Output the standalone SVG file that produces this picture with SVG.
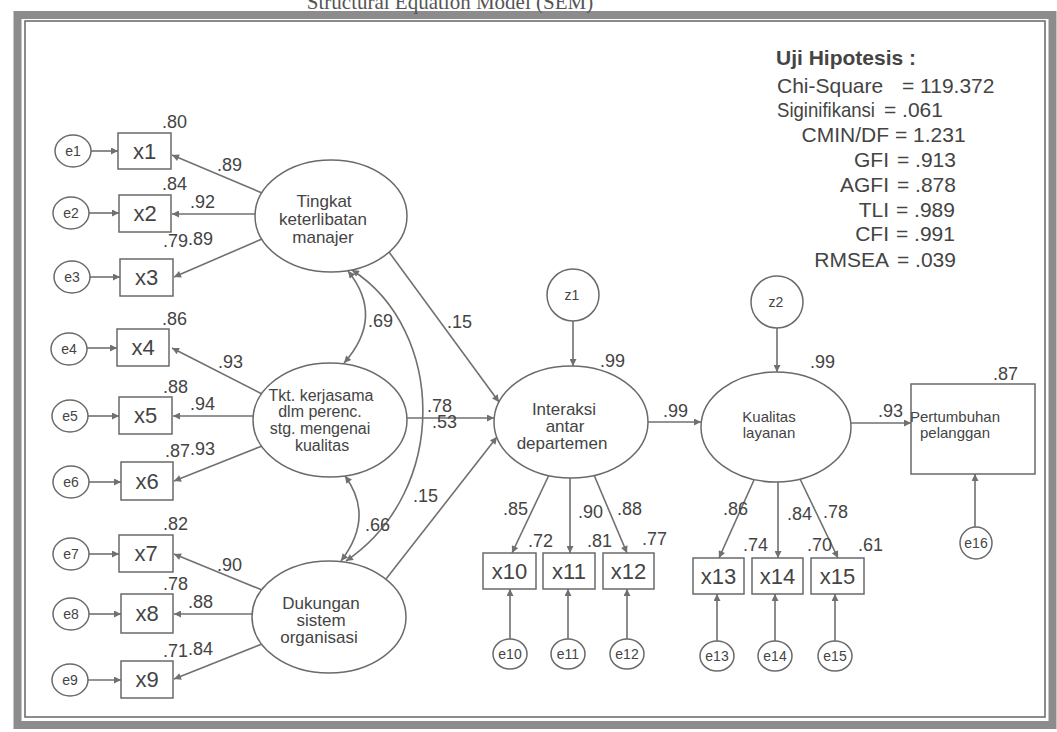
<svg xmlns="http://www.w3.org/2000/svg" width="1057" height="732" viewBox="0 0 1057 732">
<style>
.ln{stroke:#707070;stroke-width:1.6;fill:none}
.arr{marker-end:url(#ah)}
.dbl{marker-start:url(#ah);marker-end:url(#ah)}
.shp{stroke:#6a6a6a;stroke-width:1.5;fill:#fff}
.t{font-family:"Liberation Sans",Arial,sans-serif;fill:#444}
.num{font-size:18px}
.bx{font-size:22px;text-anchor:middle}
.er{font-size:14px;text-anchor:middle}
.lat{font-size:17px;text-anchor:middle}
.lat3{font-size:16px;text-anchor:middle}
.lat2{font-size:15px;text-anchor:middle}
.st{font-size:21px}
.e{text-anchor:end}
</style>
<defs>
<marker id="ah" viewBox="0 0 10 10" refX="10" refY="5" markerWidth="10" markerHeight="7" markerUnits="userSpaceOnUse" orient="auto-start-reverse">
<path d="M0,0 L10,5 L0,10 z" fill="#707070"/>
</marker>
</defs>
<rect x="0" y="0" width="1057" height="732" fill="#fff"/>
<g id="frame">
<rect x="17.5" y="15" width="1035" height="710" fill="none" stroke="#8c8c8c" stroke-width="8"/>
<rect x="25" y="21" width="1020" height="696" fill="none" stroke="#666" stroke-width="1.5"/>
</g>
<text x="450" y="9" font-family="Liberation Serif,serif" font-size="21" fill="#555" text-anchor="middle">Structural Equation Model (SEM)</text>

<g id="connectors">
<line class="ln arr" x1="91" y1="151" x2="118" y2="151"/>
<line class="ln arr" x1="89" y1="213" x2="119" y2="213"/>
<line class="ln arr" x1="90" y1="277" x2="120" y2="277"/>
<line class="ln arr" x1="87" y1="348" x2="117" y2="348"/>
<line class="ln arr" x1="88" y1="416" x2="119" y2="416"/>
<line class="ln arr" x1="89" y1="482" x2="121" y2="482"/>
<line class="ln arr" x1="89" y1="554" x2="119" y2="554"/>
<line class="ln arr" x1="89" y1="614" x2="121" y2="614"/>
<line class="ln arr" x1="88" y1="680" x2="121" y2="680"/>
<line class="ln arr" x1="262" y1="193" x2="172" y2="155"/>
<line class="ln arr" x1="255" y1="214" x2="172" y2="214"/>
<line class="ln arr" x1="262" y1="239" x2="174" y2="277"/>
<line class="ln arr" x1="262" y1="394" x2="172" y2="348"/>
<line class="ln arr" x1="253" y1="416" x2="173" y2="416"/>
<line class="ln arr" x1="262" y1="446" x2="174" y2="481"/>
<line class="ln arr" x1="262" y1="590" x2="174" y2="554"/>
<line class="ln arr" x1="252" y1="614" x2="174" y2="614"/>
<line class="ln arr" x1="262" y1="644" x2="174" y2="679"/>
<path class="ln dbl" d="M348,271 Q385,317 344,363"/>
<path class="ln dbl" d="M352,270 C445,330 450,490 346,561"/>
<path class="ln dbl" d="M345,476 Q375,517 341,561"/>
<line class="ln arr" x1="389" y1="252" x2="499" y2="402"/>
<line class="ln arr" x1="407" y1="418" x2="494" y2="418"/>
<line class="ln arr" x1="386" y1="579" x2="497" y2="437"/>
<line class="ln arr" x1="648" y1="422" x2="701" y2="422"/>
<line class="ln arr" x1="851" y1="423" x2="911" y2="423"/>
<line class="ln arr" x1="573" y1="321" x2="573" y2="366"/>
<line class="ln arr" x1="777" y1="328" x2="777" y2="372"/>
<line class="ln arr" x1="549" y1="475" x2="512" y2="553"/>
<line class="ln arr" x1="570" y1="478" x2="570" y2="553"/>
<line class="ln arr" x1="594" y1="475" x2="627" y2="553"/>
<line class="ln arr" x1="754" y1="480" x2="719" y2="558"/>
<line class="ln arr" x1="778" y1="482" x2="778" y2="558"/>
<line class="ln arr" x1="800" y1="479" x2="838" y2="558"/>
<line class="ln arr" x1="510" y1="639" x2="510" y2="589"/>
<line class="ln arr" x1="568" y1="639" x2="568" y2="589"/>
<line class="ln arr" x1="627" y1="639" x2="627" y2="589"/>
<line class="ln arr" x1="717" y1="641" x2="717" y2="594"/>
<line class="ln arr" x1="775" y1="641" x2="775" y2="594"/>
<line class="ln arr" x1="835" y1="641" x2="835" y2="594"/>
<line class="ln arr" x1="975" y1="527" x2="975" y2="474"/>
</g>

<g id="e1"><ellipse class="shp" cx="73" cy="151" rx="18" ry="16"/><text class="t er" x="73" y="156">e1</text></g>
<g id="e2"><ellipse class="shp" cx="71" cy="213" rx="18" ry="16"/><text class="t er" x="71" y="218">e2</text></g>
<g id="e3"><ellipse class="shp" cx="72" cy="277" rx="18" ry="16"/><text class="t er" x="72" y="282">e3</text></g>
<g id="e4"><ellipse class="shp" cx="69" cy="349" rx="18" ry="16"/><text class="t er" x="69" y="354">e4</text></g>
<g id="e5"><ellipse class="shp" cx="70" cy="416" rx="18" ry="16"/><text class="t er" x="70" y="421">e5</text></g>
<g id="e6"><ellipse class="shp" cx="71" cy="482" rx="18" ry="16"/><text class="t er" x="71" y="487">e6</text></g>
<g id="e7"><ellipse class="shp" cx="71" cy="554" rx="18" ry="16"/><text class="t er" x="71" y="559">e7</text></g>
<g id="e8"><ellipse class="shp" cx="71" cy="614" rx="18" ry="16"/><text class="t er" x="71" y="619">e8</text></g>
<g id="e9"><ellipse class="shp" cx="70" cy="680" rx="18" ry="16"/><text class="t er" x="70" y="685">e9</text></g>

<g id="x1"><rect class="shp" x="118" y="133" width="53" height="36"/><text class="t bx" x="144.5" y="159">x1</text></g>
<g id="x2"><rect class="shp" x="119" y="195" width="52" height="37"/><text class="t bx" x="145" y="221">x2</text></g>
<g id="x3"><rect class="shp" x="120" y="259" width="53" height="37"/><text class="t bx" x="146.5" y="285">x3</text></g>
<g id="x4"><rect class="shp" x="117" y="329" width="52" height="37"/><text class="t bx" x="143" y="355">x4</text></g>
<g id="x5"><rect class="shp" x="119" y="397" width="53" height="37"/><text class="t bx" x="145.5" y="423">x5</text></g>
<g id="x6"><rect class="shp" x="121" y="462" width="52" height="38"/><text class="t bx" x="147" y="489">x6</text></g>
<g id="x7"><rect class="shp" x="119" y="535" width="54" height="37"/><text class="t bx" x="146" y="561">x7</text></g>
<g id="x8"><rect class="shp" x="121" y="594" width="52" height="39"/><text class="t bx" x="147" y="621">x8</text></g>
<g id="x9"><rect class="shp" x="121" y="661" width="52" height="37"/><text class="t bx" x="147" y="687">x9</text></g>

<g id="tingkat"><ellipse class="shp" cx="331" cy="216" rx="76" ry="56"/>
<text class="t lat" x="324" y="207">Tingkat</text><text class="t lat" x="323" y="225">keterlibatan</text><text class="t lat" x="323" y="243">manajer</text></g>
<g id="tkt"><ellipse class="shp" cx="330" cy="420" rx="77" ry="57"/>
<text class="t lat3" x="321" y="401">Tkt. kerjasama</text><text class="t lat3" x="320" y="417">dlm perenc.</text><text class="t lat3" x="320" y="434">stg. mengenai</text><text class="t lat3" x="322" y="451">kualitas</text></g>
<g id="dukungan"><ellipse class="shp" cx="329" cy="617" rx="77" ry="56"/>
<text class="t lat" x="321" y="609">Dukungan</text><text class="t lat" x="321" y="626">sistem</text><text class="t lat" x="319" y="643">organisasi</text></g>
<g id="interaksi"><ellipse class="shp" cx="571" cy="422" rx="77" ry="56"/>
<text class="t lat" x="564" y="415">Interaksi</text><text class="t lat" x="565" y="432">antar</text><text class="t lat" x="562" y="449">departemen</text></g>
<g id="kualitas"><ellipse class="shp" cx="776" cy="427" rx="75" ry="55"/>
<text class="t lat2" x="769" y="422">Kualitas</text><text class="t lat2" x="769" y="438">layanan</text></g>
<g id="pertumbuhan"><rect class="shp" x="911" y="384" width="124" height="90"/>
<text class="t lat2" x="955" y="422">Pertumbuhan</text><text class="t lat2" x="955" y="438">pelanggan</text></g>

<g id="z1"><circle class="shp" cx="573" cy="295" r="26"/><text class="t er" x="572" y="300">z1</text></g>
<g id="z2"><circle class="shp" cx="777" cy="302" r="26"/><text class="t er" x="776" y="307">z2</text></g>

<g id="x10"><rect class="shp" x="483" y="553" width="53" height="36"/><text class="t bx" x="509.5" y="579">x10</text></g>
<g id="x11"><rect class="shp" x="543" y="553" width="52" height="36"/><text class="t bx" x="569" y="579">x11</text></g>
<g id="x12"><rect class="shp" x="603" y="553" width="51" height="36"/><text class="t bx" x="628.5" y="579">x12</text></g>
<g id="x13"><rect class="shp" x="693" y="558" width="51" height="36"/><text class="t bx" x="718.5" y="584">x13</text></g>
<g id="x14"><rect class="shp" x="752" y="558" width="51" height="36"/><text class="t bx" x="777.5" y="584">x14</text></g>
<g id="x15"><rect class="shp" x="811" y="558" width="53" height="36"/><text class="t bx" x="837.5" y="584">x15</text></g>

<g id="e10"><ellipse class="shp" cx="510" cy="654" rx="17" ry="15"/><text class="t er" x="510" y="659">e10</text></g>
<g id="e11"><ellipse class="shp" cx="568" cy="654" rx="17" ry="15"/><text class="t er" x="568" y="659">e11</text></g>
<g id="e12"><ellipse class="shp" cx="627" cy="654" rx="17" ry="15"/><text class="t er" x="627" y="659">e12</text></g>
<g id="e13"><ellipse class="shp" cx="717" cy="656" rx="17" ry="15"/><text class="t er" x="717" y="661">e13</text></g>
<g id="e14"><ellipse class="shp" cx="775" cy="656" rx="17" ry="15"/><text class="t er" x="775" y="661">e14</text></g>
<g id="e15"><ellipse class="shp" cx="835" cy="656" rx="17" ry="15"/><text class="t er" x="835" y="661">e15</text></g>
<g id="e16"><ellipse class="shp" cx="976" cy="543" rx="16" ry="16"/><text class="t er" x="976" y="548">e16</text></g>

<g id="estimates" class="t num">
<text x="162" y="128">.80</text><text x="217" y="171">.89</text>
<text x="162" y="190">.84</text><text x="190" y="208">.92</text>
<text x="163" y="247">.79</text><text x="188" y="245">.89</text>
<text x="162" y="325">.86</text><text x="218" y="368">.93</text>
<text x="163" y="393">.88</text><text x="190" y="410">.94</text>
<text x="165" y="457">.87</text><text x="190" y="455">.93</text>
<text x="163" y="530">.82</text><text x="217" y="571">.90</text>
<text x="163" y="590">.78</text><text x="188" y="608">.88</text>
<text x="163" y="657">.71</text><text x="188" y="655">.84</text>
<text x="368" y="327">.69</text><text x="447" y="328">.15</text>
<text x="427" y="412">.78</text><text x="432" y="428">.53</text>
<text x="413" y="502">.15</text><text x="365" y="531">.66</text>
<text x="600" y="367">.99</text><text x="663" y="417">.99</text>
<text x="810" y="368">.99</text><text x="878" y="417">.93</text>
<text x="993" y="380">.87</text>
<text x="503" y="515">.85</text><text x="528" y="547">.72</text>
<text x="578" y="518">.90</text><text x="587" y="547">.81</text>
<text x="617" y="515">.88</text><text x="642" y="545">.77</text>
<text x="723" y="515">.86</text><text x="743" y="551">.74</text>
<text x="787" y="520">.84</text><text x="823" y="518">.78</text>
<text x="807" y="551">.70</text><text x="858" y="551">.61</text>
</g>

<g id="fit-stats" class="t st">
<text x="776" y="65" font-weight="bold">Uji Hipotesis :</text>
<text x="777" y="93">Chi-Square</text><text x="902" y="93">= 119.372</text>
<text x="777" y="117" textLength="98" lengthAdjust="spacingAndGlyphs">Siginifikansi</text><text x="884" y="117">= .061</text>
<text class="e" x="889" y="142">CMIN/DF</text><text x="895" y="142">= 1.231</text>
<text class="e" x="889" y="167">GFI</text><text x="897" y="167">= .913</text>
<text class="e" x="889" y="192">AGFI</text><text x="897" y="192">= .878</text>
<text class="e" x="889" y="217">TLI</text><text x="896" y="217">= .989</text>
<text class="e" x="889" y="241">CFI</text><text x="896" y="241">= .991</text>
<text class="e" x="889" y="267">RMSEA</text><text x="897" y="267">= .039</text>
</g>
</svg>
